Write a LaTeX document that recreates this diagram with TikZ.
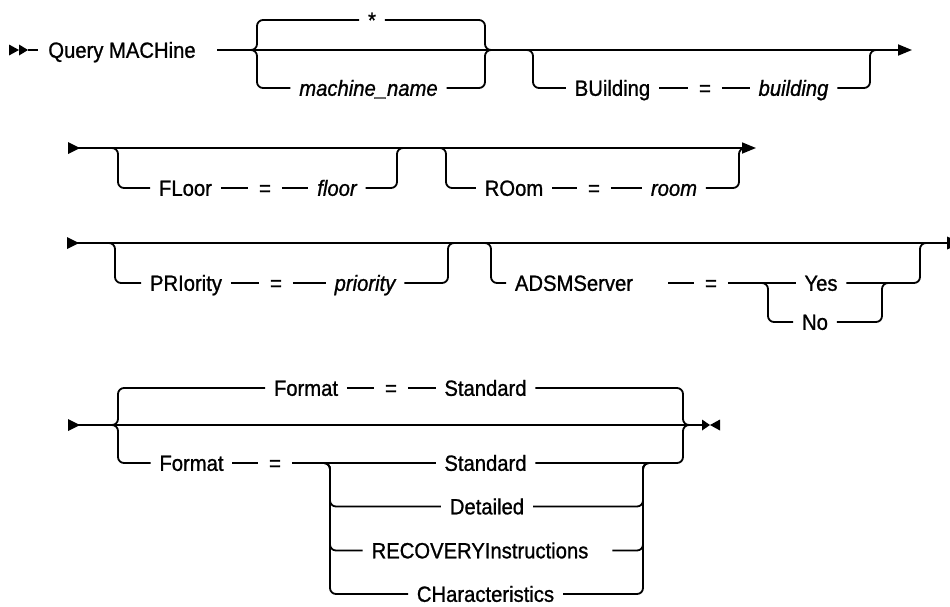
\documentclass[tikz,border=0pt]{standalone}
\usepackage{fontspec}
\setmainfont{Liberation Sans}[FakeBold=1.0, FakeStretch=0.92]
\usetikzlibrary{arrows.meta}
\begin{document}
\begin{tikzpicture}[x=1pt,y=-1pt,line width=1.8pt,
  rail/.style={rounded corners=6pt},
  lbl/.style={font=\fontsize{22}{26}\selectfont, inner xsep=8pt, inner ysep=0pt, text height=15.6pt, text depth=0pt, anchor=center},
  var/.style={lbl, font=\fontsize{22}{26}\selectfont\itshape},
  eqs/.style={lbl, inner xsep=10pt},
  endtip/.style={-{Triangle[length=14pt,width=11pt]}}]
\useasboundingbox (0,0) rectangle (950,606);
% ---------------- row 1 ----------------
\coordinate (a3) at (28,50); \coordinate (a4) at (38,50);
\fill (9,44.5) -- (19,50) -- (9,55.5) -- cycle;
\fill (19,44.5) -- (a3) -- (19,55.5) -- cycle;
\draw (a3) -- (a4);
\node[lbl] (qm) at (122,50) {Query MACHine};
\coordinate (r1s) at (217,50); \coordinate (r1e) at (912,50);
\draw[endtip] (r1s) -- (r1e);
% choice * / machine_name
\coordinate (g1l) at (250,50); \coordinate (g1r) at (492,50);
\node[lbl] (star) at (372,20) {*};
\node[var] (mname) at (368.5,88) {machine\_name};
\draw[rail] (g1l) -| (257,20) -- (star.west);
\draw[rail] (star.east) -| (485,50) -- (g1r);
\draw[rail] (g1l) -| (257,88) -- (mname.west);
\draw[rail] (mname.east) -| (485,50) -- (g1r);
% BUilding
\coordinate (g2l) at (527,50); \coordinate (g2r) at (877,50);
\node[lbl] (bu) at (612.5,88) {BUilding};
\node[eqs] (eq1) at (705,88) {=};
\node[var] (bv) at (793.5,88) {building};
\draw[rail] (g2l) -| (533,88) -- (bu.west);
\draw (bu.east) -- (eq1.west);
\draw (eq1.east) -- (bv.west);
\draw[rail] (bv.east) -| (870,50) -- (g2r);
% ---------------- row 2 ----------------
\fill (68,142) -- (80,148) -- (68,154) -- cycle;
\coordinate (r2s) at (68,148); \coordinate (r2e) at (756,148);
\draw[endtip] (r2s) -- (r2e);
\coordinate (g3l) at (112,148); \coordinate (g3r) at (404,148);
\node[lbl] (fl) at (185.5,188) {FLoor};
\node[eqs] (eq2) at (265,188) {=};
\node[var] (flv) at (337,188) {floor};
\draw[rail] (g3l) -| (118,188) -- (fl.west);
\draw (fl.east) -- (eq2.west);
\draw (eq2.east) -- (flv.west);
\draw[rail] (flv.east) -| (397,148) -- (g3r);
\coordinate (g4l) at (440,148); \coordinate (g4r) at (746,148);
\node[lbl] (ro) at (514,188) {ROom};
\node[eqs] (eq3) at (594,188) {=};
\node[var] (rov) at (674,188) {room};
\draw[rail] (g4l) -| (446,188) -- (ro.west);
\draw (ro.east) -- (eq3.west);
\draw (eq3.east) -- (rov.west);
\draw[rail] (rov.east) -| (739,148) -- (g4r);
% ---------------- row 3 ----------------
\fill (67,237) -- (79,243) -- (67,249) -- cycle;
\coordinate (r3s) at (67,243); \coordinate (r3e) at (947,243);
\draw (r3s) -- (r3e);
\fill (947,236.5) -- (950,237.8) -- (950,248.2) -- (947,249.5) -- cycle;
\coordinate (g5l) at (109,243); \coordinate (g5r) at (455,243);
\node[lbl] (pr) at (186,283) {PRIority};
\node[eqs] (eq4) at (276,283) {=};
\node[var] (prv) at (365,283) {priority};
\draw[rail] (g5l) -| (115,283) -- (pr.west);
\draw (pr.east) -- (eq4.west);
\draw (eq4.east) -- (prv.west);
\draw[rail] (prv.east) -| (448,243) -- (g5r);
\coordinate (g6l) at (485,243); \coordinate (g6r) at (927,243);
\node[lbl] (ad) at (574,283) {ADSMServer};
\coordinate (d5) at (668,283);
\node[eqs] (eq5) at (711,283) {=};
\node[lbl] (yes) at (821,283) {Yes};
\node[lbl] (no) at (815,322) {No};
\coordinate (ynl) at (762,283); \coordinate (ynr) at (888,283);
\draw[rail] (g6l) -| (491,283) -- (ad.west);
\draw (d5) -- (eq5.west);
\draw (eq5.east) -- (yes.west);
\draw[rail] (yes.east) -| (920,243) -- (g6r);
\draw[rail] (ynl) -| (768,322) -- (no.west);
\draw[rail] (no.east) -| (882,283) -- (ynr);
% ---------------- row 4 ----------------
\fill (68,419) -- (80,425) -- (68,431) -- cycle;
\coordinate (r4s) at (68,425); \coordinate (r4e) at (702,425);
\draw (r4s) -- (r4e);
\fill (702,419.5) -- (710,425) -- (702,430.5) -- cycle;
\fill (720,419.5) -- (710,425) -- (720,430.5) -- cycle;
\coordinate (g7l) at (112,425); \coordinate (g7r) at (689,425);
\node[lbl] (fa) at (306,388) {Format};
\node[eqs] (eq6) at (391,388) {=};
\node[lbl] (sa) at (485.5,388) {Standard};
\draw[rail] (g7l) -| (118,388) -- (fa.west);
\draw (fa.east) -- (eq6.west);
\draw (eq6.east) -- (sa.west);
\draw[rail] (sa.east) -| (683,425) -- (g7r);
\node[lbl] (fb) at (191.5,463) {Format};
\node[eqs] (eq7) at (275,463) {=};
\node[lbl] (sb) at (485.5,463) {Standard};
\node[lbl] (de) at (487,506.5) {Detailed};
\node[lbl] (rc) at (480,550.5) {RECOVERYInstructions};
\node[lbl] (chr) at (485.5,594) {CHaracteristics};
\draw[rail] (g7l) -| (118,463) -- (fb.west);
\draw (fb.east) -- (eq7.west);
\draw (eq7.east) -- (sb.west);
\draw[rail] (sb.east) -| (683,425) -- (g7r);
\coordinate (kl) at (323,463); \coordinate (kr) at (650,463);
\draw[rail] (kl) -| (330,506.5) -- (de.west);
\draw[rail] (kl) -| (330,550.5) -- (rc.west);
\draw[rail] (kl) -| (330,594) -- (chr.west);
\draw[rail] (de.east) -| (643,463) -- (kr);
\draw[rail] ([xshift=15pt]rc.east) -| (643,463) -- (kr);
\draw[rail] (chr.east) -| (643,463) -- (kr);
\end{tikzpicture}
\end{document}
